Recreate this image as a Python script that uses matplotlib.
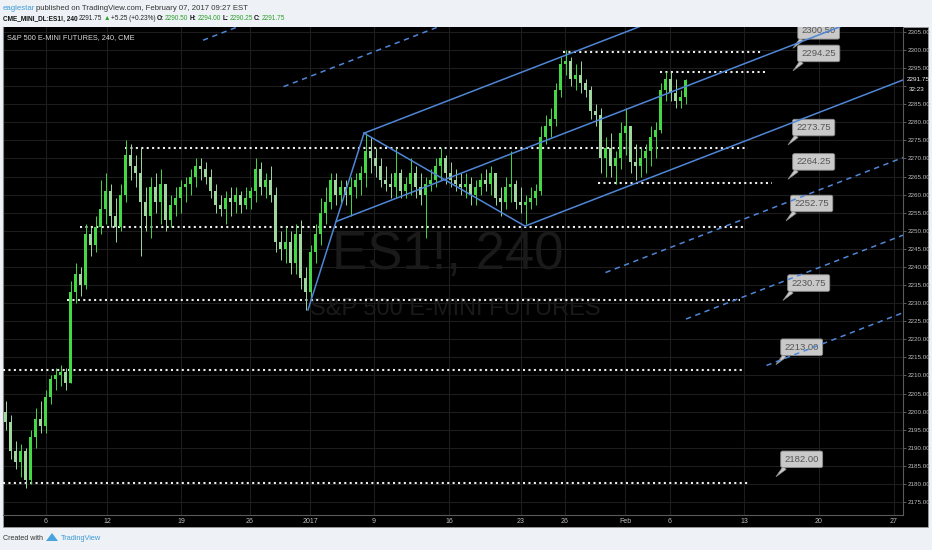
import matplotlib
matplotlib.use("Agg")
import matplotlib.pyplot as plt
from matplotlib.patches import Rectangle, Polygon
from matplotlib.transforms import blended_transform_factory
import numpy as np

W, H = 932, 550
plt.rcParams["font.family"] = ["Liberation Sans", "DejaVu Sans"]

# ES1! 240 candles, one candle per slot (slot = ~2 bars of the original)
first_open = 2200.0
highs = [2203, 2199, 2192, 2191, 2190, 2195, 2201, 2203, 2206, 2210,
         2212, 2213, 2212, 2236, 2241, 2240, 2252, 2251, 2254, 2264,
         2266, 2263, 2259, 2263, 2275, 2274, 2271, 2273, 2262, 2265,
         2266, 2267, 2263, 2260, 2262, 2264, 2265, 2267, 2270, 2270,
         2269, 2267, 2263, 2260, 2261, 2262, 2262, 2261, 2262, 2262,
         2270, 2269, 2266, 2268, 2262, 2250, 2251, 2250, 2252, 2253,
         2240, 2246, 2252, 2259, 2262, 2266, 2266, 2264, 2264, 2265,
         2266, 2268, 2277, 2276, 2273, 2270, 2268, 2266, 2273, 2267,
         2265, 2270, 2268, 2266, 2265, 2267, 2270, 2273, 2271, 2269,
         2267, 2266, 2266, 2265, 2264, 2266, 2267, 2268, 2266, 2262,
         2265, 2272, 2264, 2262, 2260, 2262, 2263, 2279, 2282, 2284,
         2291, 2298, 2300, 2298, 2296, 2297, 2292, 2290, 2285, 2284,
         2276, 2277, 2272, 2280, 2284, 2279, 2274, 2273, 2274, 2279,
         2280, 2291, 2294, 2294, 2292, 2289, 2292]
lows = [2195, 2187, 2184, 2182, 2179, 2180, 2190, 2194, 2194, 2202,
        2206, 2207, 2206, 2208, 2230, 2232, 2234, 2243, 2244, 2249,
        2252, 2251, 2247, 2250, 2258, 2264, 2262, 2243, 2250, 2248,
        2255, 2252, 2250, 2251, 2254, 2255, 2258, 2260, 2262, 2264,
        2263, 2259, 2255, 2254, 2252, 2254, 2255, 2255, 2256, 2256,
        2258, 2260, 2259, 2258, 2244, 2242, 2241, 2238, 2238, 2234,
        2228, 2231, 2241, 2246, 2252, 2256, 2257, 2258, 2257, 2254,
        2259, 2260, 2262, 2266, 2265, 2262, 2261, 2259, 2259, 2259,
        2259, 2260, 2259, 2257, 2248, 2261, 2262, 2264, 2263, 2262,
        2261, 2260, 2259, 2257, 2257, 2260, 2261, 2260, 2257, 2254,
        2256, 2258, 2256, 2255, 2252, 2256, 2257, 2260, 2274, 2276,
        2279, 2287, 2293, 2290, 2289, 2288, 2287, 2281, 2279, 2266,
        2265, 2265, 2263, 2267, 2271, 2266, 2264, 2265, 2266, 2268,
        2270, 2277, 2286, 2286, 2284, 2284, 2285]
closes = [2197, 2189, 2186, 2189, 2181, 2193, 2198, 2196, 2204, 2209,
          2210, 2211, 2208, 2233, 2238, 2235, 2249, 2246, 2251, 2256,
          2261, 2254, 2251, 2260, 2271, 2268, 2266, 2258, 2254, 2262,
          2258, 2263, 2253, 2257, 2259, 2262, 2263, 2265, 2268, 2267,
          2265, 2261, 2257, 2256, 2259, 2258, 2260, 2257, 2259, 2261,
          2267, 2262, 2264, 2260, 2247, 2245, 2247, 2241, 2249, 2237,
          2233, 2244, 2249, 2255, 2258, 2264, 2260, 2262, 2260, 2262,
          2264, 2266, 2272, 2270, 2268, 2264, 2263, 2262, 2266, 2261,
          2263, 2266, 2262, 2260, 2263, 2264, 2268, 2270, 2266, 2264,
          2263, 2262, 2263, 2260, 2262, 2264, 2263, 2266, 2259, 2258,
          2262, 2263, 2258, 2257, 2258, 2259, 2261, 2276, 2279, 2281,
          2289, 2296, 2297, 2292, 2293, 2291, 2289, 2283, 2282, 2270,
          2273, 2268, 2270, 2277, 2279, 2269, 2268, 2270, 2272, 2276,
          2278, 2289, 2292, 2288, 2286, 2287, 2291.75]

# date axis (slot positions) and labels
tick_pos = [8.6, 20.8, 35.6, 49.4, 61.4, 74.2, 89.2, 103.6, 112.4, 124.4, 133.4, 148.2, 163.2, 178.2]
tick_labels = ["6", "12", "19", "26", "2017", "9", "16", "23", "26", "Feb", "6", "13", "20", "27"]
price_ticks = list(range(2175, 2310, 5))

# schiff pitchfork anchors (slot, price)
pf_a = (61.0, 2228.1)
pf_b = (72.2, 2277.0)
pf_c = (104.4, 2251.3)

# dotted horizontal levels
levels = [2299.5, 2293.8, 2272.9, 2263.2, 2251.0, 2230.9, 2211.4, 2180.3]
level_start = [112, 131.4, 24.4, 119, 15.4, 12.8, 0, 0]
level_end = [152, 152.8, 149, 153.8, 148.4, 147.4, 147.8, 149]

# price callouts
callout_text = ["2300.50", "2294.25", "2273.75", "2264.25", "2252.75", "2230.75", "2213.00", "2182.00"]
callout_price = [2300.5, 2294.25, 2273.75, 2264.25, 2252.75, 2230.75, 2213.0, 2182.0]
callout_slot = [158, 158, 157, 157, 156.6, 156, 154.6, 154.6]

UP = "#45d845"
DOWN = "#9fd79f"
BLUE = "#4f86d6"
AXC = "#bdbdbd"

fig = plt.figure(figsize=(W / 100, H / 100), dpi=100)
fig.patch.set_facecolor("#eef2f6")
renderer = fig.canvas.get_renderer()

def fx(px):
    return px / W

def fy(py):
    return 1 - py / H

def text_row(x0, y0, pieces, size, gap=1.5):
    # lay out pieces one after another so they never overlap
    x = fx(x0)
    for s, c, w in pieces:
        t = fig.text(x, fy(y0), s, fontsize=size, color=c, fontweight=w, va="center")
        bb = t.get_window_extent(renderer)
        x = (bb.x1 + gap) / W

# black chart panel
fig.add_artist(Rectangle((fx(3), fy(527)), 925 / W, 500 / H, transform=fig.transFigure,
                         facecolor="black", edgecolor="#9a9a9a", lw=0.6, zorder=-1))

ax = fig.add_axes([fx(3), fy(515), 900 / W, 488 / H])
ax.set_facecolor("black")
ax.set_xlim(0, 180)
ax.set_ylim(2171.4, 2306.36)

# grid and axes
ax.set_yticks(price_ticks)
ax.set_yticklabels(["" if v == 2290 else f"{v:.2f}" for v in price_ticks])
ax.set_xticks(tick_pos)
ax.set_xticklabels(tick_labels)
ax.grid(True, color="#1d1d1d", lw=0.8)
ax.set_axisbelow(True)
ax.yaxis.tick_right()
ax.tick_params(axis="y", colors="#6a6a6a", labelcolor=AXC, length=2.5, width=0.6, pad=1.2, labelsize=4.5)
ax.tick_params(axis="x", length=0, pad=2.5, labelsize=5, labelcolor=AXC)
ax.spines["top"].set_visible(False)
for side in ("right", "bottom"):
    ax.spines[side].set_color("#5a5a5a")
    ax.spines[side].set_linewidth(0.8)
ax.spines["left"].set_color("#8a8a8a")

# watermark
ax.text(89, 2243.3, "ES1!, 240", fontsize=38, color="#1a1a1a", ha="center", va="center", zorder=1)
ax.text(90.4, 2228.4, "S&P 500 E-MINI FUTURES", fontsize=17, color="#1a1a1a", ha="center", va="center", zorder=1)

# dotted levels
for lv, s, e in zip(levels, level_start, level_end):
    ax.plot([s, e], [lv, lv], color="#ececec", lw=1.5, ls=(0, (1, 1.6)), zorder=3)

# candles
x = np.arange(len(closes)) + 0.5
opens = [first_open] + closes[:-1]
cols = [UP if c >= o else DOWN for o, c in zip(opens, closes)]
bottoms = [min(o, c) for o, c in zip(opens, closes)]
heights = [max(abs(c - o), 0.4) for o, c in zip(opens, closes)]
ax.vlines(x, lows, highs, colors=cols, lw=0.7, zorder=4)
ax.bar(x, heights, bottom=bottoms, width=0.6, color=cols, lw=0, zorder=4)

# schiff pitchfork
A, B, C = np.array(pf_a), np.array(pf_b), np.array(pf_c)
m0 = (A + B) / 2
mbc = (B + C) / 2
slope = (mbc[1] - m0[1]) / (mbc[0] - m0[0])

def ray(p, x_end=180):
    return [p[0], x_end], [p[1], p[1] + slope * (x_end - p[0])]

ax.plot([A[0], B[0]], [A[1], B[1]], color=BLUE, lw=1.1, zorder=7)
ax.plot([B[0], C[0]], [B[1], C[1]], color=BLUE, lw=1.1, zorder=7)
for p in (m0, B, C):
    ax.plot(*ray(p), color=BLUE, lw=1.1, zorder=7)
for k in (2, 3, 4):
    for side in (B, C):
        p = mbc + k * (side - mbc)
        ax.plot(*ray(p), color=BLUE, lw=1.1, ls=(0, (3.5, 3)), zorder=7)

# callouts
for txt, s, p in zip(callout_text, callout_slot, callout_price):
    ann = ax.annotate(txt, xy=(s, p), xytext=(18.5, 12.5), textcoords="offset points",
                      ha="center", va="center", fontsize=6.8, color="#555555", zorder=6,
                      bbox=dict(boxstyle="round,pad=0.4,rounding_size=0.2", fc="#c9c9c9", ec="#8c8c8c", lw=0.6),
                      arrowprops=dict(arrowstyle="wedge,tail_width=0.45,shrink_factor=0.5", fc="#c9c9c9",
                                      ec="#8c8c8c", lw=0.5, relpos=(0.12, 0.0), shrinkA=0, shrinkB=0))
    ann.set_clip_on(True)
    ann.set_clip_path(ax.patch)

# last price tag on the price axis
tr = blended_transform_factory(ax.transAxes, ax.transData)
ax.text(1.0 + 3.5 / 900, 2291.75, "2291.75", transform=tr, fontsize=4.6, color="#f0f0f0",
        ha="left", va="center", clip_on=False)
ax.text(1.0 + 6 / 900, 2289.0, "32:23", transform=tr, fontsize=4.6, color="#f0f0f0",
        ha="left", va="center", clip_on=False)

# chart title inside panel
fig.text(fx(7), fy(38), "S&P 500 E-MINI FUTURES, 240, CME", fontsize=5.3, color="#d8d8d8", va="center")

# header
text_row(3, 9, [("eaglestar", "#3d9ad6", "normal"),
                ("published on TradingView.com, February 07, 2017 09:27 EST", "#333333", "normal")], 5.6, gap=1.0)
text_row(3, 19, [("CME_MINI_DL:ES1!, 240", "#111111", "bold"),
                 ("2291.75", "#222222", "normal"),
                 ("\u25B2", "#2ca02c", "normal"),
                 ("+5.25 (+0.23%)", "#222222", "normal"),
                 ("O:", "#111111", "bold"),
                 ("2290.50", "#2ca02c", "normal"),
                 ("H:", "#111111", "bold"),
                 ("2294.00", "#2ca02c", "normal"),
                 ("L:", "#111111", "bold"),
                 ("2290.25", "#2ca02c", "normal"),
                 ("C:", "#111111", "bold"),
                 ("2291.75", "#2ca02c", "normal")], 4.7, gap=1.2)

# footer
text_row(3, 538, [("Created with", "#333333", "normal")], 5.1)
fig.add_artist(Polygon([[fx(46), fy(541)], [fx(52), fy(533)], [fx(58), fy(541)]], closed=True,
                       transform=fig.transFigure, facecolor="#4ba3dc", edgecolor="none"))
fig.text(fx(61), fy(538), "TradingView", fontsize=5.3, color="#3d9ad6", va="center")

fig.savefig("out.png", dpi=100, facecolor=fig.get_facecolor())
